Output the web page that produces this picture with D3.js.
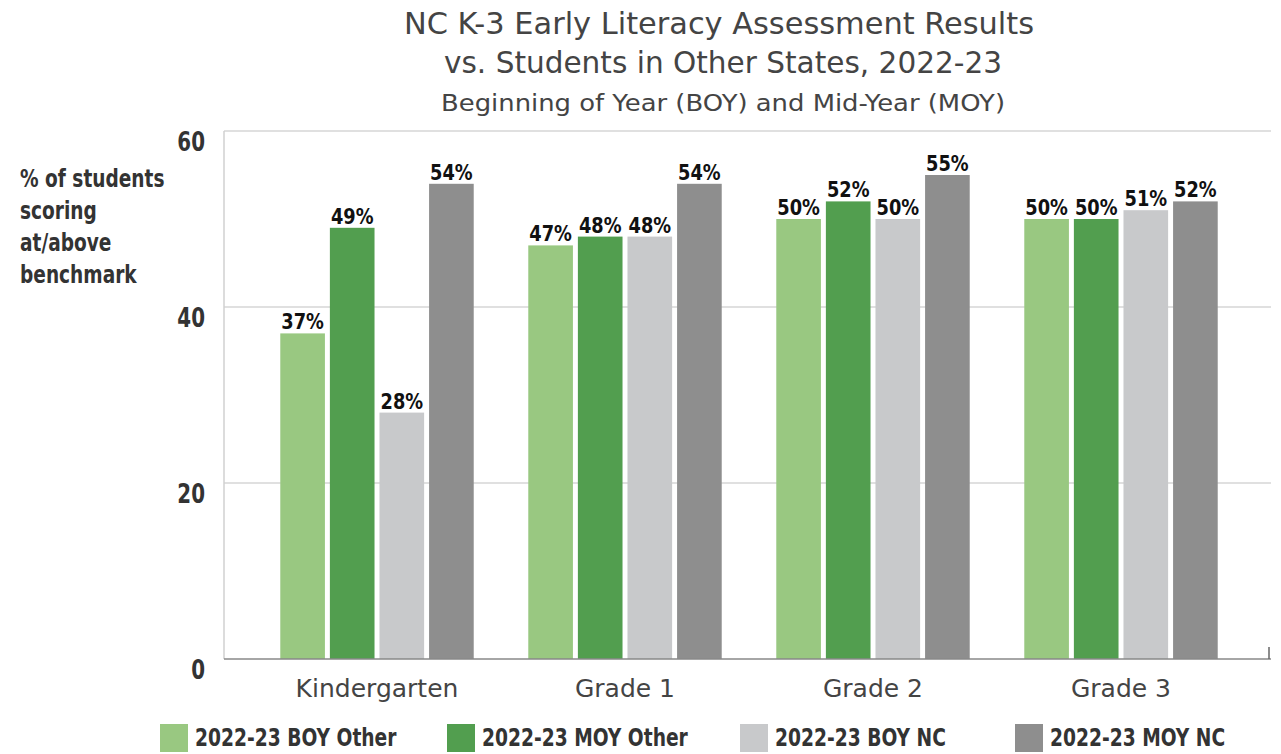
<!DOCTYPE html>
<html>
<head>
<meta charset="utf-8">
<script src="https://cdn.jsdelivr.net/npm/d3@7"></script>
<style>
  body { margin: 0; background: #fff; }
  svg { display: block; }
  .cond { font-family: "DejaVu Sans Condensed", "Liberation Sans Narrow", Arial, sans-serif; font-weight: bold; }
  .plain { font-family: "DejaVu Sans", "Liberation Sans", Arial, sans-serif; fill: #444; }
</style>
</head>
<body>
<svg id="chart" width="1281" height="754"></svg>
<script>
// Grade groups and series
const grades = ['Kindergarten', 'Grade 1', 'Grade 2', 'Grade 3'];
const series = ['2022-23 BOY Other', '2022-23 MOY Other', '2022-23 BOY NC', '2022-23 MOY NC'];
const seriesColors = ['#99c881', '#529e4f', '#c8c9cb', '#8e8e8e'];

// % of students at/above benchmark, one array per series
const boyOther = [37, 47, 50, 50];
const moyOther = [49, 48, 52, 50];
const boyNC = [28, 48, 50, 51];
const moyNC = [54, 54, 55, 52];
const yTicks = [0, 20, 40, 60];

const values = [boyOther, moyOther, boyNC, moyNC];

const svg = d3.select('#chart');

// Plot frame
const plotLeft = 224, plotRight = 1271, plotTop = 131, plotBottom = 659;

const y = d3.scaleLinear().domain([0, 60]).range([plotBottom, plotTop]);
const x0 = d3.scaleBand().domain(grades).range([253, 1245]).paddingInner(0.22).paddingOuter(0.11);
const x1 = d3.scaleBand().domain(series).range([0, x0.bandwidth()]).paddingInner(0.1);

// condensed bold text: squeeze horizontally around its anchor point
function squeeze(sel, fx, fy, sx) {
  sel.attr('transform', (d, i) => `translate(${fx(d, i)},${fy(d, i)}) scale(${sx},1)`);
}

// Titles
svg.append('text').attr('class', 'plain')
  .attr('x', 719).attr('y', 34).attr('text-anchor', 'middle')
  .attr('font-size', 30).attr('textLength', 630).attr('lengthAdjust', 'spacingAndGlyphs')
  .text('NC K-3 Early Literacy Assessment Results');
svg.append('text').attr('class', 'plain')
  .attr('x', 723).attr('y', 73).attr('text-anchor', 'middle')
  .attr('font-size', 30).attr('textLength', 558).attr('lengthAdjust', 'spacingAndGlyphs')
  .text('vs. Students in Other States, 2022-23');
svg.append('text').attr('class', 'plain')
  .attr('x', 723).attr('y', 111).attr('text-anchor', 'middle')
  .attr('font-size', 23).attr('textLength', 564).attr('lengthAdjust', 'spacingAndGlyphs')
  .text('Beginning of Year (BOY) and Mid-Year (MOY)');

// Gridlines
svg.append('g').selectAll('line')
  .data(yTicks.filter(d => d > 0))
  .join('line')
  .attr('x1', plotLeft).attr('x2', plotRight)
  .attr('y1', d => y(d)).attr('y2', d => y(d))
  .attr('stroke', '#d6d6d6').attr('stroke-width', 1.5);

// Left axis line
svg.append('line')
  .attr('x1', plotLeft).attr('x2', plotLeft).attr('y1', plotTop).attr('y2', plotBottom)
  .attr('stroke', '#d0d0d0').attr('stroke-width', 1.5);

// Y tick labels
svg.append('g').selectAll('text')
  .data(yTicks)
  .join('text')
  .attr('class', 'cond')
  .attr('text-anchor', 'end').attr('font-size', 26).attr('fill', '#333')
  .call(squeeze, () => 205, d => y(d) + 20, 0.85)
  .text(d => d);

// Y axis title
const yTitle = ['% of students', 'scoring', 'at/above', 'benchmark'];
svg.append('g').selectAll('text')
  .data(yTitle)
  .join('text')
  .attr('class', 'cond')
  .attr('font-size', 24).attr('fill', '#333')
  .call(squeeze, () => 20, (d, i) => 187 + i * 32, 0.86)
  .text(d => d);

// Bars
const groups = svg.append('g').selectAll('g')
  .data(grades)
  .join('g')
  .attr('transform', d => `translate(${x0(d)},0)`);

groups.selectAll('rect')
  .data((g, gi) => series.map((s, si) => ({ s, si, v: values[si][gi] })))
  .join('rect')
  .attr('x', d => x1(d.s))
  .attr('y', d => y(d.v))
  .attr('width', x1.bandwidth())
  .attr('height', d => y(0) - y(d.v))
  .attr('fill', d => seriesColors[d.si]);

groups.selectAll('text')
  .data((g, gi) => series.map((s, si) => ({ s, si, v: values[si][gi] })))
  .join('text')
  .attr('class', 'cond')
  .attr('text-anchor', 'middle').attr('font-size', 22).attr('fill', '#111')
  .call(squeeze, d => x1(d.s) + x1.bandwidth() / 2, d => y(d.v) - 4, 0.9)
  .text(d => d.v + '%');

// Baseline
svg.append('line')
  .attr('x1', plotLeft).attr('x2', plotRight).attr('y1', plotBottom).attr('y2', plotBottom)
  .attr('stroke', '#888').attr('stroke-width', 1.5);
svg.append('line')
  .attr('x1', plotRight - 2).attr('x2', plotRight - 2).attr('y1', plotBottom - 12).attr('y2', plotBottom)
  .attr('stroke', '#666').attr('stroke-width', 1.5);

// Category labels
svg.append('g').selectAll('text')
  .data(grades)
  .join('text')
  .attr('class', 'plain')
  .attr('x', d => x0(d) + x0.bandwidth() / 2)
  .attr('y', 697)
  .attr('text-anchor', 'middle').attr('font-size', 25)
  .text(d => d);

// Legend
const legendX = [160, 447, 740, 1015];
const legend = svg.append('g').selectAll('g')
  .data(series)
  .join('g')
  .attr('transform', (d, i) => `translate(${legendX[i]},724)`);
legend.append('rect')
  .attr('width', 28).attr('height', 28)
  .attr('fill', (d, i) => seriesColors[i]);
legend.append('text')
  .attr('class', 'cond')
  .attr('font-size', 25).attr('fill', '#333')
  .call(squeeze, () => 35, () => 22, 0.83)
  .text(d => d);
</script>
</body>
</html>
